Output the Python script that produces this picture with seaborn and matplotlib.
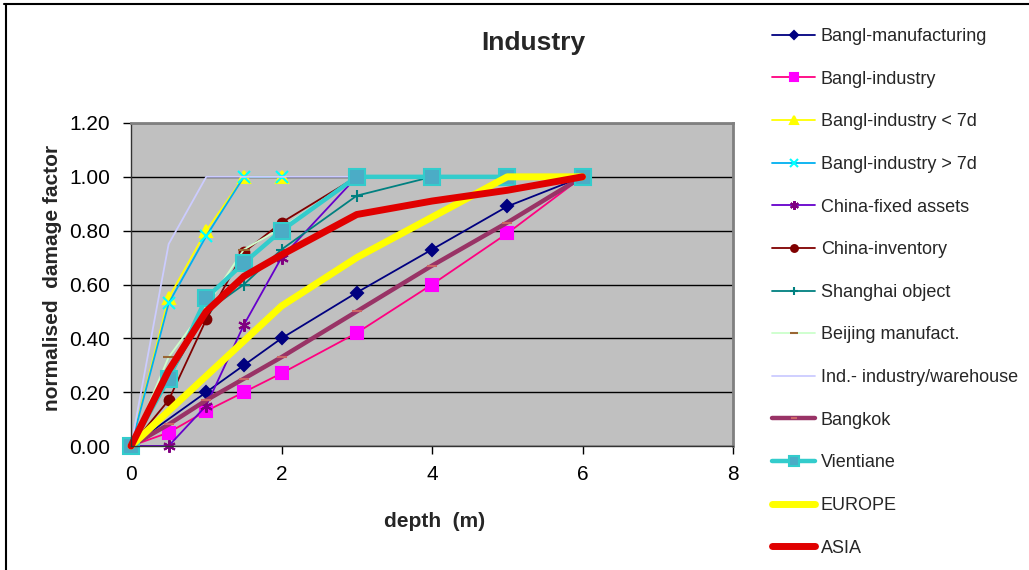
import matplotlib
matplotlib.use("Agg")
import matplotlib.pyplot as plt
import seaborn as sns
from matplotlib.lines import Line2D

# depth (m) and normalised damage factor per series
bangl_manuf_x = [0, 1, 1.5, 2, 3, 4, 5, 6]
bangl_manuf_y = [0, 0.20, 0.30, 0.40, 0.57, 0.73, 0.89, 1.00]

bangl_ind_x = [0, 0.5, 1, 1.5, 2, 3, 4, 5, 6]
bangl_ind_y = [0, 0.05, 0.13, 0.20, 0.27, 0.42, 0.60, 0.79, 1.00]

bangl_lt7_x = [0, 0.5, 1, 1.5, 2]
bangl_lt7_y = [0, 0.55, 0.80, 1.00, 1.00]

bangl_gt7_x = [0, 0.5, 1, 1.5, 2]
bangl_gt7_y = [0, 0.53, 0.78, 1.00, 1.00]

china_fixed_x = [0, 0.5, 1, 1.5, 2, 3]
china_fixed_y = [0, 0.00, 0.15, 0.45, 0.70, 1.00]

china_inv_x = [0, 0.5, 1, 1.5, 2, 3]
china_inv_y = [0, 0.17, 0.47, 0.72, 0.83, 1.00]

shanghai_x = [0, 0.5, 1, 1.5, 2, 3, 4]
shanghai_y = [0, 0.25, 0.50, 0.60, 0.73, 0.93, 1.00]

beijing_x = [0, 0.5, 1, 1.5, 2, 3]
beijing_y = [0, 0.33, 0.52, 0.73, 0.81, 1.00]

ind_ware_x = [0, 0.5, 1, 3]
ind_ware_y = [0, 0.75, 1.00, 1.00]

bangkok_x = [0, 0.5, 1, 1.5, 2, 3, 4, 5, 6]
bangkok_y = [0, 0.08, 0.17, 0.25, 0.33, 0.50, 0.67, 0.83, 1.00]

vientiane_x = [0, 0.5, 1, 1.5, 2, 3, 4, 5, 6]
vientiane_y = [0, 0.25, 0.55, 0.68, 0.80, 1.00, 1.00, 1.00, 1.00]

europe_x = [0, 0.5, 1, 1.5, 2, 3, 4, 5, 6]
europe_y = [0, 0.13, 0.26, 0.39, 0.52, 0.70, 0.85, 1.00, 1.00]

asia_x = [0, 0.5, 1, 1.5, 2, 3, 4, 5, 6]
asia_y = [0, 0.28, 0.50, 0.63, 0.71, 0.86, 0.91, 0.95, 1.00]

# (label, x, y, line colour, line width, marker, marker face, marker edge, marker size)
series = [
    ("Bangl-manufacturing", bangl_manuf_x, bangl_manuf_y, "#000080", 1.3, "D", "#000080", "#000080", 6),
    ("Bangl-industry", bangl_ind_x, bangl_ind_y, "#FF0080", 1.3, "s", "#FF00FF", "#FF00FF", 8),
    ("Bangl-industry < 7d", bangl_lt7_x, bangl_lt7_y, "#FFFF00", 1.3, "^", "#FFFF00", "#FFFF00", 8),
    ("Bangl-industry > 7d", bangl_gt7_x, bangl_gt7_y, "#00B0F0", 1.3, "x", "#00FFFF", "#00FFFF", 8),
    ("China-fixed assets", china_fixed_x, china_fixed_y, "#6600CC", 1.3, (6, 2, 0), "#800080", "#800080", 9),
    ("China-inventory", china_inv_x, china_inv_y, "#800000", 1.3, "o", "#800000", "#800000", 7),
    ("Shanghai object", shanghai_x, shanghai_y, "#008080", 1.3, "+", "#008080", "#008080", 9),
    ("Beijing manufact.", beijing_x, beijing_y, "#CCFFCC", 1.3, "_", "#996633", "#996633", 9),
    ("Ind.- industry/warehouse", ind_ware_x, ind_ware_y, "#CCCCFF", 1.3, None, "none", "none", 0),
    ("Bangkok", bangkok_x, bangkok_y, "#993366", 3.2, "_", "#CC6666", "#CC6666", 7),
    ("Vientiane", vientiane_x, vientiane_y, "#33CCCC", 3.2, "s", "#4BACC6", "#33CCCC", 11),
    ("EUROPE", europe_x, europe_y, "#FFFF00", 5.0, None, "none", "none", 0),
    ("ASIA", asia_x, asia_y, "#E00000", 5.0, None, "none", "none", 0),
]

sns.set_theme(style="white")
plt.rcParams['font.family'] = ['Liberation Sans', 'DejaVu Sans']

fig = plt.figure(figsize=(10.29, 5.70), dpi=100)
ax = fig.add_axes([131 / 1029, 1 - 446 / 570, 602 / 1029, 323 / 570])
ax.set_facecolor("#C0C0C0")

for label, xs, ys, lc, lw, mk, mfc, mec, ms in series:
    sns.lineplot(
        x=xs, y=ys, ax=ax, color=lc, linewidth=lw, label=label,
        marker=mk, markerfacecolor=mfc, markeredgecolor=mec,
        markersize=ms, markeredgewidth=1.5, clip_on=False,
        estimator=None, sort=False,
    )

ax.set_xlim(0, 8)
ax.set_ylim(0, 1.2)
ax.set_xticks([0, 2, 4, 6, 8])
ax.set_yticks([0, 0.2, 0.4, 0.6, 0.8, 1.0, 1.2])
ax.set_yticklabels([f"{v:.2f}" for v in [0, 0.2, 0.4, 0.6, 0.8, 1.0, 1.2]])
ax.tick_params(axis="both", labelsize=15, colors="black", length=6, width=1,
               direction="out", left=True, bottom=True)
ax.tick_params(axis="y", pad=9)
ax.tick_params(axis="x", pad=8)

# horizontal gridlines in black
ax.yaxis.grid(True, color="black", linewidth=1)
ax.xaxis.grid(False)
ax.set_axisbelow(True)

for side in ["top", "right"]:
    ax.spines[side].set_color("#808080")
    ax.spines[side].set_linewidth(2)
for side in ["left", "bottom"]:
    ax.spines[side].set_color("#333333")
    ax.spines[side].set_linewidth(1)

ax.set_xlabel("depth  (m)", fontsize=15, fontweight="bold")
ax.set_ylabel("normalised  damage factor", fontsize=15, fontweight="bold")
ax.xaxis.set_label_coords(0.505, -0.205)
ax.yaxis.set_label_coords(-0.115, 0.52)

fig.text(533 / 1029, 1 - 43 / 570, "Industry", fontsize=19, fontweight="bold",
         ha="center", va="center")

handles, labels = ax.get_legend_handles_labels()
ax.get_legend().remove()
fig.legend(handles, labels, loc="upper left", bbox_to_anchor=(772 / 1029, 1 - 28 / 570),
           frameon=False, fontsize=13, handlelength=2.4, handletextpad=0.3,
           labelspacing=1.42, borderaxespad=0, borderpad=0, markerscale=0.7)

# frame lines from the original slide
fig.add_artist(Line2D([4 / 1029, 1], [1 - 4 / 570, 1 - 4 / 570], color="black", lw=1.5))
fig.add_artist(Line2D([6 / 1029, 6 / 1029], [0, 1 - 4 / 570], color="black", lw=1.5))

fig.savefig("out.png", dpi=100)
